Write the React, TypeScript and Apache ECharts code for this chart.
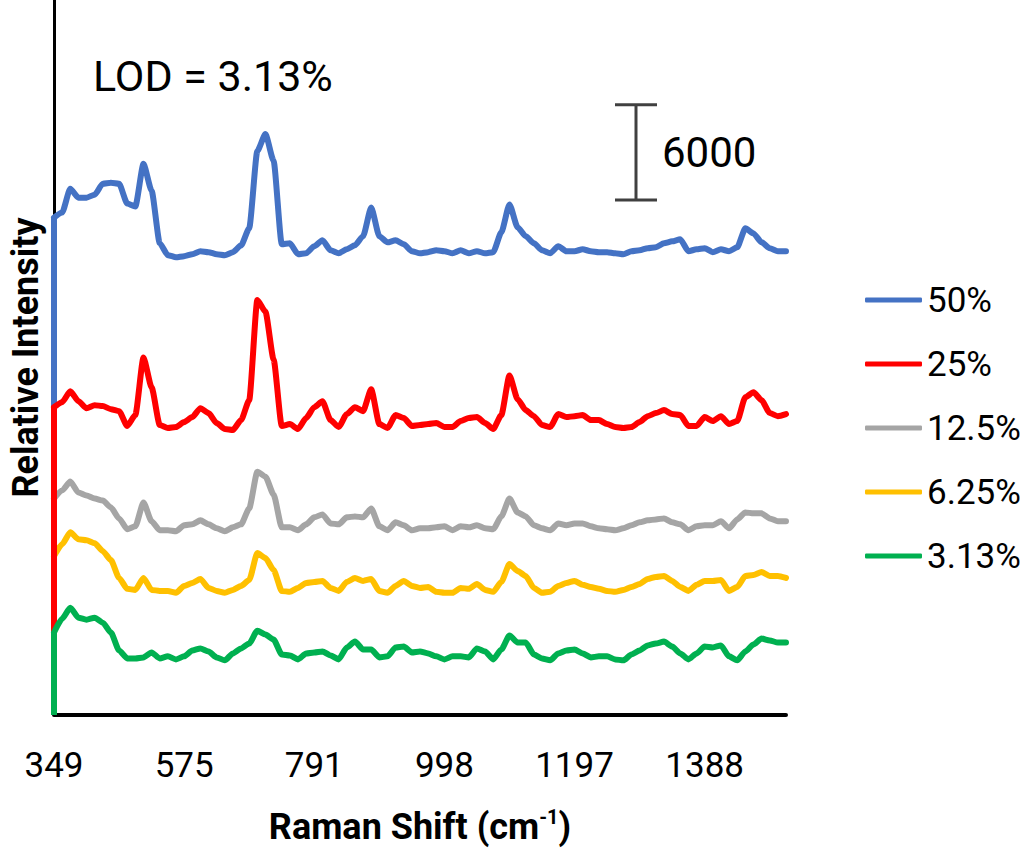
import React, { useEffect, useRef } from 'react';
import * as echarts from 'echarts';

// Raman shift labels shown on the category-like x axis (one every `labelStep` spectrum points)
const tickLabels = ['349', '575', '791', '998', '1197', '1388'];
const labelStep = 16;
const seriesNames = ['50%', '25%', '12.5%', '6.25%', '3.13%'];
const seriesColors = ['#4472C4', '#FF0000', '#A5A5A5', '#FFC000', '#00B050'];
const scaleBarValue = 6000;
const annotation = 'LOD = 3.13%';

// Offset spectra (relative intensity), one value per spectrum point
const s50 = [31310, 31625, 33125, 32560, 32560, 32750, 33440, 33500, 33440, 32190,
  32000, 34690, 33000, 29690, 28940, 28810, 28880, 29000, 29190, 29130,
  29000, 28940, 29130, 29560, 30630, 35500, 36560, 34880, 29630, 29690,
  29000, 29060, 29500, 29880, 29250, 29060, 29310, 29560, 30130, 31940,
  30130, 29750, 29880, 29630, 29190, 29060, 29130, 29250, 29190, 29060,
  29250, 29060, 29190, 29060, 29130, 30380, 32130, 30690, 30130, 29690,
  29250, 29060, 29500, 29190, 29190, 29310, 29190, 29130, 29130, 29060,
  29000, 29190, 29250, 29380, 29440, 29690, 29810, 29940, 29190, 29310,
  29380, 29130, 29310, 29190, 29440, 30630, 30310, 29750, 29380, 29190,
  29190];
const s25 = [19375, 19690, 20375, 19750, 19310, 19500, 19440, 19250, 19125, 18190,
  18875, 22500, 20625, 18250, 18060, 18125, 18440, 18750, 19310, 19000,
  18375, 18000, 17940, 18560, 19810, 26125, 25375, 22375, 18190, 18310,
  18000, 18690, 19375, 19750, 18560, 18125, 18940, 19375, 19125, 20500,
  18310, 18060, 18875, 18690, 18190, 18250, 18310, 18375, 18125, 18125,
  18500, 18690, 18750, 18375, 18000, 18875, 21375, 19875, 19190, 18810,
  18250, 18125, 18940, 18750, 18810, 18875, 18560, 18560, 18310, 18125,
  18060, 18125, 18440, 18810, 19000, 19190, 18940, 18875, 18190, 18190,
  18750, 18500, 18810, 18310, 18500, 20000, 20310, 19810, 19000, 18810,
  18940];
const s125 = [13625, 14125, 14690, 14000, 13810, 13625, 13500, 13060, 12375, 11690,
  11875, 13375, 12190, 11625, 11625, 11560, 11940, 12000, 12250, 12000,
  11750, 11560, 11810, 12000, 13000, 15310, 15000, 13875, 11810, 11810,
  11625, 12000, 12440, 12625, 12060, 12000, 12440, 12500, 12440, 13000,
  11875, 11625, 12125, 11940, 11625, 11750, 11750, 11810, 11875, 11625,
  11875, 11810, 11940, 11750, 11690, 12500, 13625, 12750, 12500, 11940,
  11750, 11625, 12060, 11940, 12060, 12060, 11875, 11750, 11690, 11625,
  11750, 11940, 12125, 12250, 12310, 12375, 12125, 12000, 11625, 11875,
  11940, 11940, 12190, 11750, 12310, 12750, 12690, 12690, 12375, 12190,
  12190];
const s625 = [10000, 10750, 11500, 11060, 11000, 10810, 10310, 9750, 8625, 7940,
  7875, 8625, 7875, 7810, 7810, 7690, 8125, 8310, 8560, 8000,
  7810, 7690, 7875, 8125, 8500, 10190, 9875, 9125, 7810, 7750,
  8000, 8310, 8375, 8440, 8000, 7810, 8375, 8625, 8440, 8560,
  7810, 7690, 8125, 8440, 8125, 8000, 8060, 7750, 7690, 7690,
  8000, 7940, 8250, 7875, 7750, 8375, 9500, 9060, 8750, 8000,
  7690, 7750, 8125, 8310, 8440, 8190, 8060, 7940, 7810, 7750,
  7875, 8060, 8250, 8560, 8690, 8750, 8440, 8060, 7810, 8190,
  8440, 8440, 8500, 7810, 8060, 8750, 8810, 9000, 8750, 8750,
  8625];
const s313 = [5190, 6060, 6750, 6125, 6000, 6125, 5810, 5190, 4060, 3560,
  3560, 3625, 3940, 3560, 3690, 3500, 3690, 4060, 4190, 4000,
  3625, 3440, 3875, 4190, 4500, 5310, 5060, 4750, 3810, 3750,
  3500, 3875, 3940, 4000, 3750, 3500, 4250, 4625, 4125, 4125,
  3625, 3690, 4250, 4310, 3940, 4000, 3875, 3690, 3500, 3690,
  3690, 3625, 4190, 4000, 3500, 4125, 5000, 4560, 4560, 3810,
  3560, 3440, 3875, 4060, 4125, 3875, 3625, 3690, 3690, 3500,
  3440, 3810, 4060, 4375, 4500, 4625, 4310, 3875, 3500, 3875,
  4310, 4250, 4375, 3690, 3440, 4000, 4440, 4810, 4690, 4560,
  4560];
const baselineStart = 0; // every trace starts from zero at the first point
const seriesValues = [s50, s25, s125, s625, s313];
const seriesZ = [1, 4, 2, 3, 5];

const FONT = 'Roboto, "Open Sans", "DejaVu Sans", sans-serif';

export default function App() {
  const ref = useRef<HTMLDivElement>(null);
  useEffect(() => {
    const chart = echarts.init(ref.current!, null, { renderer: 'svg' });
    const pointCount = s50.length;
    const series: any[] = [];
    seriesNames.forEach((name, k) => {
      const color = seriesColors[k];
      const lineStyle = { color, width: 6, cap: 'round', join: 'round' };
      // spectrum itself (lightly smoothed, like the dense measured trace)
      series.push({
        name,
        type: 'line',
        data: seriesValues[k].map((v, i) => [i, v]),
        symbol: 'none',
        showSymbol: false,
        smooth: 0.2,
        smoothMonotone: 'x',
        z: seriesZ[k],
        color,
        lineStyle,
        itemStyle: { color },
        emphasis: { disabled: true },
      });
      // rise from the zero baseline at the first point
      series.push({
        name,
        type: 'line',
        data: [[0, baselineStart], [0, seriesValues[k][0]]],
        symbol: 'none',
        showSymbol: false,
        z: seriesZ[k],
        color,
        lineStyle: { ...lineStyle, cap: 'butt' },
        itemStyle: { color },
        emphasis: { disabled: true },
      });
    });
    chart.setOption({
      animation: false,
      grid: { left: 48, right: 239, top: -2, bottom: 132, containLabel: false },
      xAxis: {
        type: 'value',
        min: 0,
        max: pointCount - 1,
        interval: labelStep,
        axisLine: { lineStyle: { color: '#000', width: 4 } },
        axisTick: { show: false },
        splitLine: { show: false },
        axisLabel: {
          showMaxLabel: false,
          margin: 33,
          color: '#000',
          fontFamily: FONT,
          fontSize: 35,
          formatter: (v: number) => (v % labelStep === 0 ? tickLabels[v / labelStep] ?? '' : ''),
        },
        name: '{a|Raman Shift (cm}{s|-1}{a|)}',
        nameLocation: 'middle',
        nameGap: 92,
        nameTextStyle: {
          rich: {
            a: { fontFamily: FONT, fontSize: 36, fontWeight: 'bold', color: '#000', lineHeight: 40 },
            s: { fontFamily: FONT, fontSize: 20, fontWeight: 'bold', color: '#000', verticalAlign: 'top', lineHeight: 40 },
          },
        },
      },
      yAxis: {
        type: 'value',
        min: 0,
        max: 45000,
        axisLine: { show: true, lineStyle: { color: '#000', width: 3 } },
        axisTick: { show: false },
        axisLabel: { show: false },
        splitLine: { show: false },
        name: 'Relative Intensity',
        nameLocation: 'middle',
        nameGap: 10,
        nameTextStyle: { fontFamily: FONT, fontSize: 36, fontWeight: 'bold', color: '#000' },
      },
      legend: {
        orient: 'vertical',
        left: 860,
        top: 275,
        icon: 'roundRect',
        itemWidth: 57,
        itemHeight: 5,
        itemGap: 24,
        data: seriesNames,
        selectedMode: false,
        textStyle: { fontFamily: FONT, fontSize: 35, color: '#000', lineHeight: 40 },
      },
      series,
    });

    const yTop = chart.convertToPixel({ yAxisIndex: 0 }, scaleBarValue) as number;
    const yZero = chart.convertToPixel({ yAxisIndex: 0 }, 0) as number;
    const barLen = yZero - yTop;
    const barX = 636;
    const barBottom = 200;
    const barColor = '#404040';
    chart.setOption({
      graphic: [
        {
          type: 'text',
          left: 93,
          top: 54,
          style: { text: annotation, fontFamily: FONT, fontSize: 43, fill: '#000' },
        },
        {
          type: 'line',
          shape: { x1: barX, y1: barBottom - barLen, x2: barX, y2: barBottom },
          style: { stroke: barColor, lineWidth: 3 },
        },
        {
          type: 'line',
          shape: { x1: barX - 21, y1: barBottom - barLen, x2: barX + 21, y2: barBottom - barLen },
          style: { stroke: barColor, lineWidth: 3 },
        },
        {
          type: 'line',
          shape: { x1: barX - 21, y1: barBottom, x2: barX + 21, y2: barBottom },
          style: { stroke: barColor, lineWidth: 3 },
        },
        {
          type: 'text',
          left: 662,
          top: 131,
          style: { text: String(scaleBarValue), fontFamily: FONT, fontSize: 42, fill: '#000' },
        },
      ],
    });
    return () => chart.dispose();
  }, []);
  return <div ref={ref} style={{ position: 'absolute', left: 0, top: 0, width: 1025, height: 850 }} />;
}
